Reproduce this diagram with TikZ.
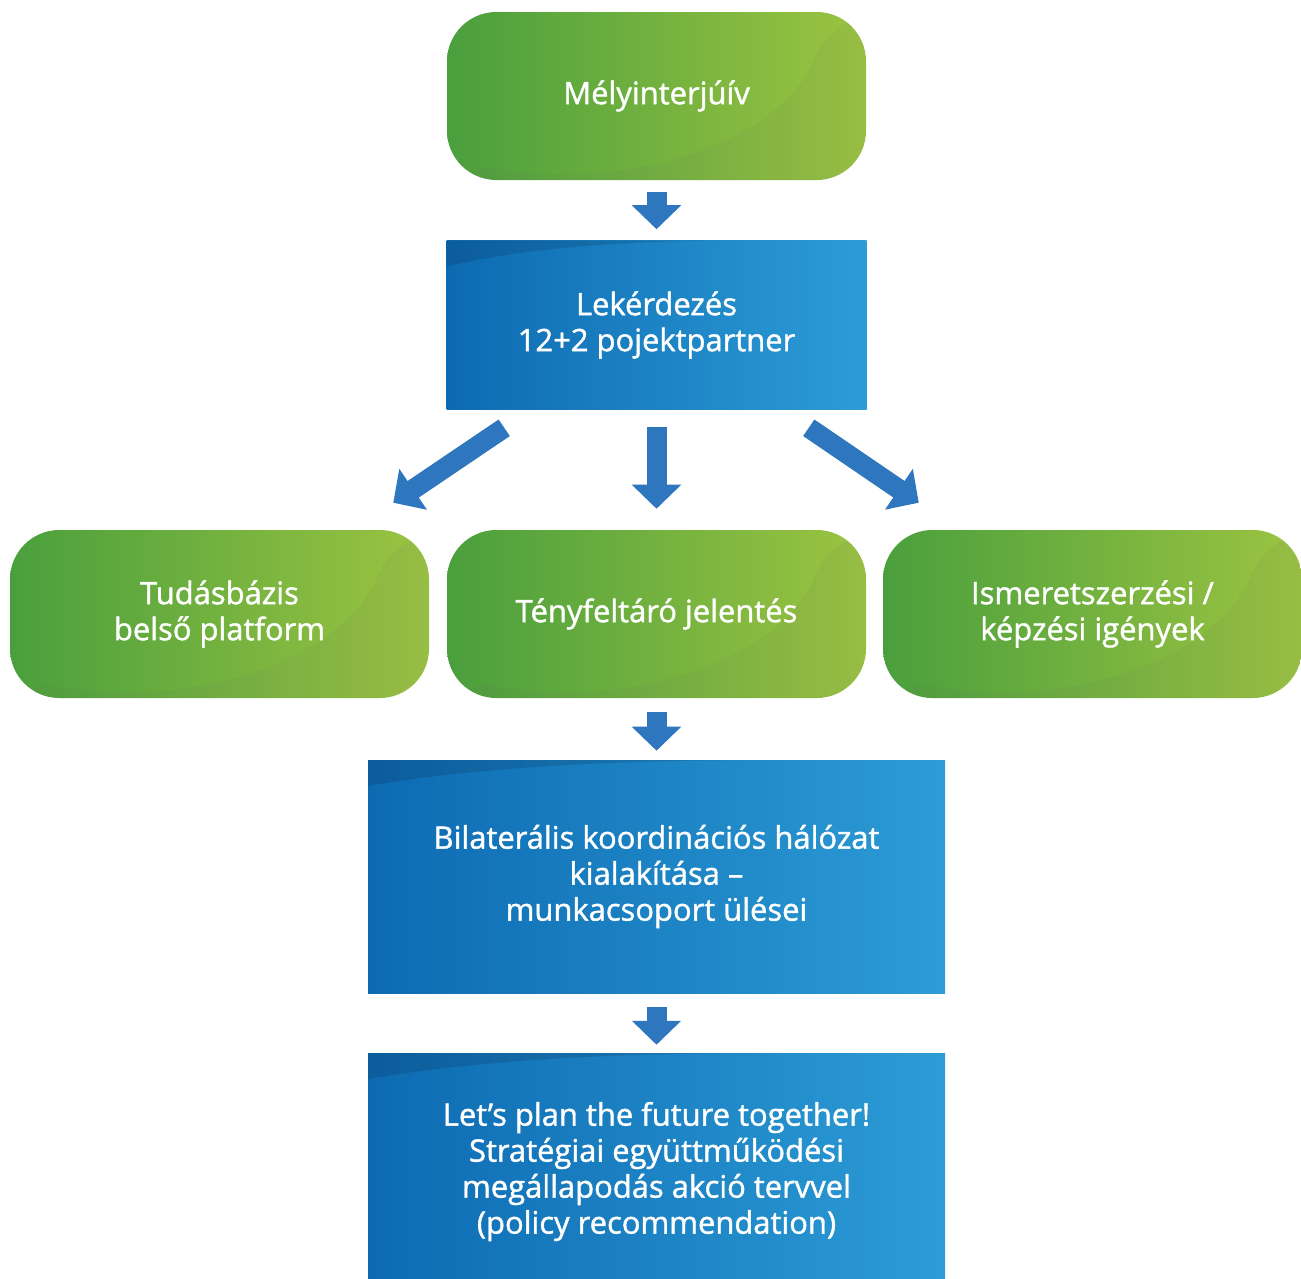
\documentclass[tikz,border=0pt]{standalone}
\usepackage{fontspec}
\setmainfont{Open Sans}
\newfontfamily\boxfont{Open Sans}[FakeBold=1.3]
\usetikzlibrary{arrows.meta,calc}
\definecolor{grnL}{HTML}{4A9F3D}
\definecolor{grnR}{HTML}{9CC441}
\definecolor{bluL}{HTML}{0D6AB2}
\definecolor{bluR}{HTML}{2C9CD6}
\definecolor{arrblue}{HTML}{2E77BE}
\begin{document}
\begin{tikzpicture}[x=0.75pt,y=-0.75pt]
	\tikzstyle{every node}=[font=\boxfont\fontsize{23.2}{27}\selectfont, text=white, align=center, inner sep=0pt]
	\tikzstyle{gbox}=[rectangle, rounded corners=37pt, minimum width=314.25pt, minimum height=126pt, left color=grnL, right color=grnR,
		path picture={
			\coordinate (pnw) at (path picture bounding box.north west);
			\fill[black!60, opacity=.07] ($(pnw)+(0,148)$) .. controls ($(pnw)+(200,182)$) and ($(pnw)+(340,120)$) .. ($(pnw)+(385,0)$)
				-- (path picture bounding box.north east) -- (path picture bounding box.south east) -- (path picture bounding box.south west) -- cycle;
		}]
	\tikzstyle{bbox}=[rectangle, left color=bluL, right color=bluR,
		path picture={
			\coordinate (pnw) at (path picture bounding box.north west);
			\coordinate (pne) at (path picture bounding box.north east);
			\fill[black, opacity=.12] (pnw) -- ($(pnw)+(0,26)$) .. controls ($(pnw)!.2!(pne)+(0,6)$) and ($(pnw)!.45!(pne)+(0,0)$) .. ($(pnw)!.7!(pne)$) -- cycle;
		}]
	\tikzstyle{barrow}=[line width=15pt, draw=arrblue, -{Triangle[width=36pt,length=18pt]}]
	\useasboundingbox (0,0) rectangle (1301,1278);
	\node[gbox] (melyinterju) at (656.5,96) {Mélyinterjúív};
	\node[bbox, minimum width=315pt, minimum height=126.75pt] (lekerdezes) at (656.5,325) {Lekérdezés\\12+2 pojektpartner};
	\node[gbox] (tudasbazis) at (219.5,614) {Tudásbázis\\belső platform};
	\node[gbox] (tenyfeltaro) at (656.5,614) {Tényfeltáró jelentés};
	\node[gbox] (ismeret) at (1092.5,614) {Ismeretszerzési /\\képzési igények};
	\node[bbox, minimum width=432.75pt, minimum height=174.75pt] (bilateralis) at (656.5,876.5) {Bilaterális koordinációs hálózat\\kialakítása –\\munkacsoport ülései};
	\node[bbox, minimum width=432.75pt, minimum height=177.75pt] (strategia) at (656.5,1171.5) {Let’s plan the future together!\\Stratégiai együttműködési\\megállapodás akció tervvel\\(policy recommendation)};
	\draw[barrow, shorten <=9pt, shorten >=8.25pt] (melyinterju) -- (lekerdezes);
	\draw[barrow] ([shift={(58,18)}]lekerdezes.south west) -- ([shift={(-36,-27)}]tudasbazis.north east);
	\draw[barrow, shorten <=12.75pt, shorten >=15.75pt] (lekerdezes) -- (tenyfeltaro);
	\draw[barrow] ([shift={(-58,18)}]lekerdezes.south east) -- ([shift={(36,-27)}]ismeret.north west);
	\draw[barrow, shorten <=10.5pt, shorten >=6.75pt] (tenyfeltaro) -- (bilateralis);
	\draw[barrow, shorten <=10.5pt, shorten >=6pt] (bilateralis) -- (strategia);
\end{tikzpicture}
\end{document}
